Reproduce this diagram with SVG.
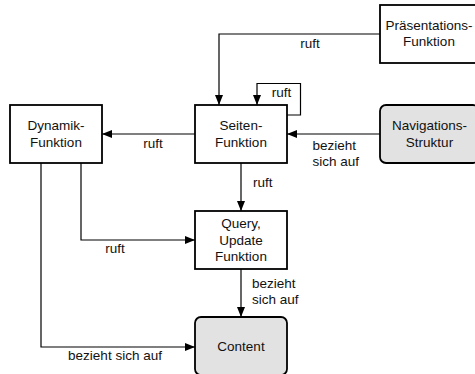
<svg xmlns="http://www.w3.org/2000/svg" width="475" height="374" viewBox="0 0 475 374">
<defs>
<marker id="ah" markerWidth="10" markerHeight="8" refX="10" refY="4" orient="auto" markerUnits="userSpaceOnUse">
<path d="M0,0 L10,4 L0,8 Z" fill="#000"/>
</marker>
<style>
.box{fill:#fff;stroke:#000;stroke-width:1.8}
.gray{fill:#e2e2e2;stroke:#000;stroke-width:1.8}
.t{font-family:"Liberation Sans",Arial,Helvetica,sans-serif;font-size:13.5px;fill:#111;text-anchor:middle}
.l{font-family:"Liberation Sans",Arial,Helvetica,sans-serif;font-size:13.5px;fill:#111}
.c{fill:none;stroke:#000;stroke-width:1.2;marker-end:url(#ah)}
</style>
</defs>
<rect width="475" height="374" fill="#fff"/>
<g id="connectors">
<path class="c" d="M380,34 H219 V105"/>
<path class="c" d="M287,115 H300.5 V83.5 H257 V105"/>
<path class="c" d="M380,134 H287"/>
<path class="c" d="M195,134 H102"/>
<path class="c" d="M241,163 V211"/>
<path class="c" d="M81,163 V240 H195"/>
<path class="c" d="M41,163 V347 H195"/>
<path class="c" d="M241,269 V317"/>
<text class="t" x="310" y="48">ruft</text>
<text class="t" x="281.5" y="96.5">ruft</text>
<text class="l" x="312.5" y="150">bezieht</text>
<text class="l" x="312.5" y="165.5">sich auf</text>
<text class="t" x="153" y="148">ruft</text>
<text class="l" x="253" y="187">ruft</text>
<text class="t" x="115" y="253">ruft</text>
<text class="l" x="252" y="288">bezieht</text>
<text class="l" x="252" y="304">sich auf</text>
<text class="t" x="115" y="360">bezieht sich auf</text>
</g>
<g id="praesentation">
<rect class="box" x="380" y="5" width="98" height="58"/>
<text class="t" x="429" y="29.5">Präsentations-</text>
<text class="t" x="429" y="46">Funktion</text>
</g>
<g id="dynamik">
<rect class="box" x="10" y="105" width="92" height="58"/>
<text class="t" x="56" y="130">Dynamik-</text>
<text class="t" x="56" y="146.5">Funktion</text>
</g>
<g id="seiten">
<rect class="box" x="195" y="105" width="92" height="58"/>
<text class="t" x="241" y="130">Seiten-</text>
<text class="t" x="241" y="146.5">Funktion</text>
</g>
<g id="navigation">
<rect class="gray" x="380" y="105" width="99" height="58" rx="6" ry="6"/>
<text class="t" x="429.5" y="130">Navigations-</text>
<text class="t" x="429.5" y="146.5">Struktur</text>
</g>
<g id="query">
<rect class="box" x="195" y="211" width="92" height="58"/>
<text class="t" x="241" y="228">Query,</text>
<text class="t" x="241" y="244.5">Update</text>
<text class="t" x="241" y="261">Funktion</text>
</g>
<g id="content">
<rect class="gray" x="195" y="317" width="92" height="58" rx="6" ry="6"/>
<text class="t" x="241" y="350.5">Content</text>
</g>
</svg>
